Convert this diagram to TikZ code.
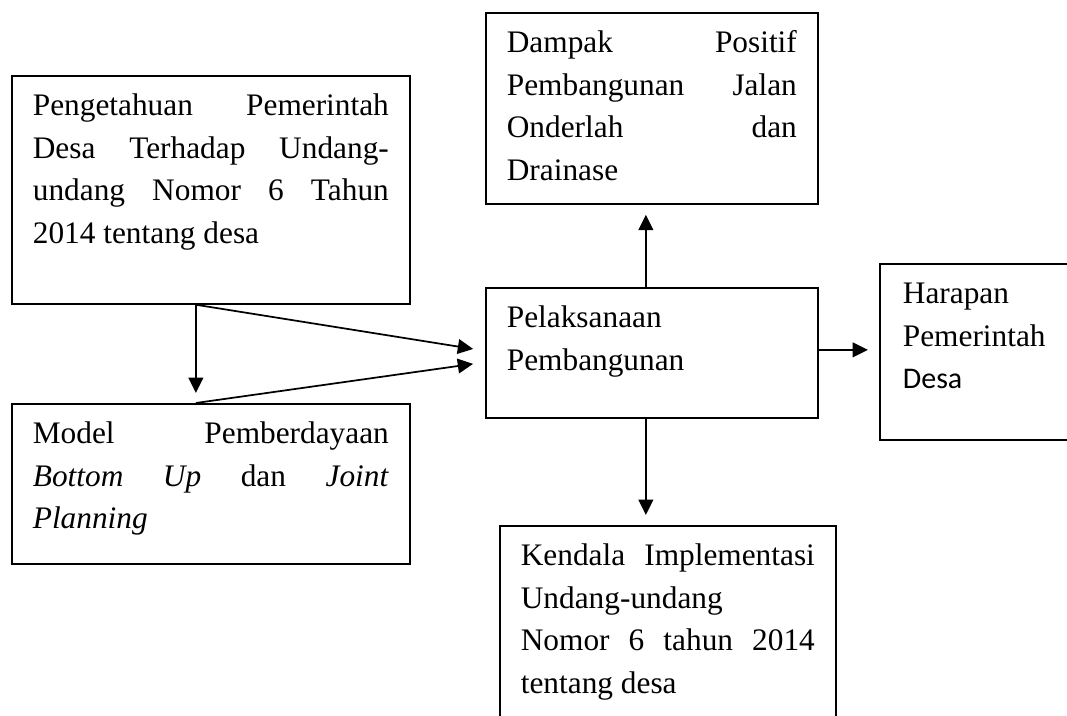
\documentclass[tikz,border=0pt]{standalone}
\usepackage{fontspec}
\setmainfont{Liberation Serif}
\newfontfamily\desafont{Carlito}
\usetikzlibrary{arrows.meta}
\tikzstyle{arrow}     = [line width=1.3pt,-{Triangle[length=11.5pt,width=11pt]},shorten >=7.5pt]
\tikzstyle{kotak}     = [draw, line width=1.3pt, anchor=north west, inner xsep=15.75pt, inner ysep=7.5pt, font=\fontsize{23.5}{31.9}\selectfont]
\tikzstyle{kotakkanan}    = [kotak, inner xsep=17.25pt]
\newcommand{\isikotak}[3]{\parbox[c][#2][t]{#1}{\tolerance=10000\hbadness=10000\strut #3}}

\begin{document}
\begin{tikzpicture}[x=0.75pt,y=-0.75pt]

    \useasboundingbox (0,0) rectangle (1067,716);
    \clip (0,0) rectangle (1067,716);

    \node[kotak] (PG)   at (11,75) {\isikotak{267pt}{156pt}{Pengetahuan Pemerintah\linebreak Desa Terhadap Undang-\linebreak undang Nomor 6 Tahun\linebreak 2014 tentang desa}};
    \node[kotak] (MP)   at (11,403) {\isikotak{267pt}{105pt}{Model Pemberdayaan\linebreak \textit{Bottom Up} dan \textit{Joint}\linebreak \textit{Planning}}};
    \node[kotak] (PL)   at (485,287) {\isikotak{217.5pt}{82.5pt}{Pelaksanaan\\ Pembangunan}};
    \node[kotak] (DP)   at (485,12) {\isikotak{217.5pt}{128.25pt}{Dampak Positif\linebreak Pembangunan Jalan\linebreak Onderlah dan\linebreak Drainase}};
    \node[kotakkanan] (HP)   at (879,263) {\isikotak{150pt}{117pt}{Harapan\\ Pemerintah\\ {\desafont\fontsize{22.5}{31.9}\selectfont Desa}}};
    \node[kotak] (KD)   at (499,525) {\isikotak{220.5pt}{161pt}{Kendala Implementasi\linebreak Undang-undang\\ Nomor 6 tahun 2014\linebreak tentang desa}};

    \draw[arrow] ([xshift=-11.25pt]PG.south) -- ([xshift=-11.25pt]MP.north);
    \draw[arrow,shorten >=9pt] ([xshift=-11.25pt]PG.south) -- ([yshift=1.5pt]PL.west);
    \draw[arrow,shorten >=9pt] ([xshift=-11.25pt]MP.north) -- ([yshift=-7pt]PL.west);
    \draw[arrow] ([xshift=-4.5pt]PL.north) -- ([xshift=-4.5pt]DP.south);
    \draw[arrow,shorten >=8.25pt] ([yshift=2.25pt]PL.east) -- ([yshift=2.25pt]PL.east -| HP.west);
    \draw[arrow] ([xshift=-4.5pt]PL.south) -- ([xshift=-4.5pt]PL.south |- KD.north);

\end{tikzpicture}
\end{document}
